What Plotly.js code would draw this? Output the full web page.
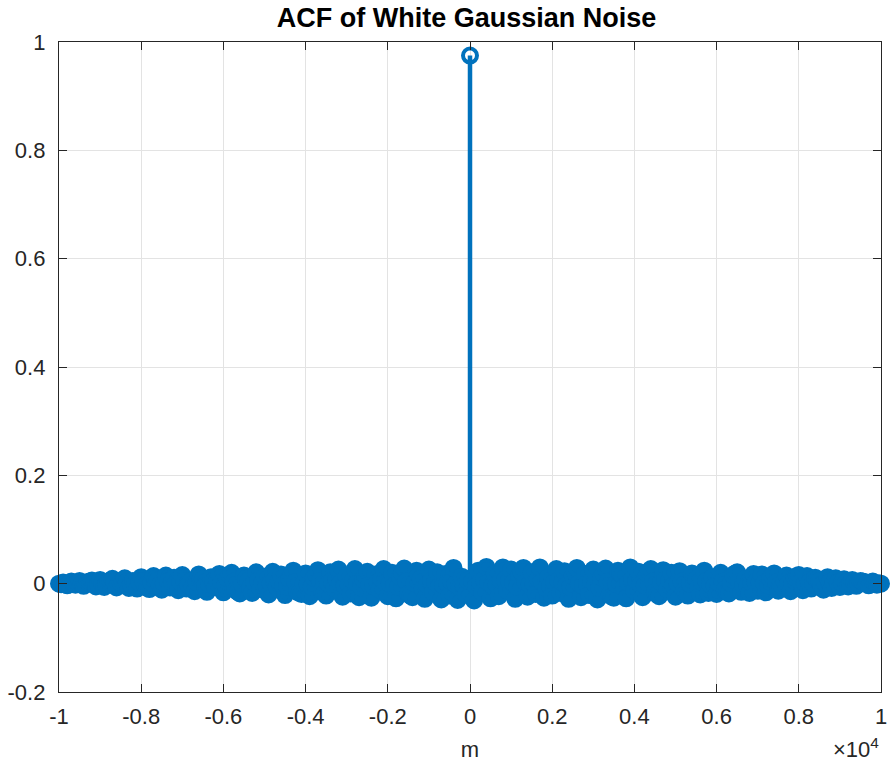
<!DOCTYPE html>
<html>
<head>
<meta charset="utf-8">
<script src="https://cdn.plot.ly/plotly-3.0.1.min.js"></script>
<style>html,body{margin:0;padding:0;background:#fff;}#chart{width:890px;height:771px;}</style>
</head>
<body>
<div id="chart"></div>
<script>
// Lag range and step (in samples)
const lagStart = -10000;
const lagStep = 50;

// ACF values, one per lag from -10000 to 10000 (step 50)
const acfValues = [
  0.000, -0.001, 0.002, 0.000, -0.003, 0.001, 0.004, 0.001, -0.002, 0.002, 0.005, 0.000, -0.004, -0.001, 0.003, 0.004, 0.006, 0.001, -0.005, -0.002,
  0.007, 0.001, -0.006, -0.001, 0.004, 0.006, 0.009, 0.002, -0.007, -0.003, 0.002, 0.005, 0.010, 0.003, -0.008, -0.002, 0.005, 0.000, -0.009, 0.003,
  0.012, 0.004, -0.004, -0.008, -0.010, 0.002, 0.014, 0.009, 0.006, -0.003, -0.011, 0.001, 0.015, 0.004, -0.007, 0.002, 0.011, 0.000, -0.012, 0.003,
  0.016, 0.005, -0.009, -0.002, 0.004, -0.006, -0.014, 0.003, 0.017, 0.011, 0.008, -0.004, -0.015, -0.001, 0.012, 0.004, -0.006, 0.007, 0.018, 0.002,
  -0.016, -0.003, 0.010, 0.016, 0.020, 0.004, -0.012, -0.015, -0.018, 0.000, 0.015, 0.009, 0.005, -0.008, -0.017, 0.003, 0.021, 0.006, -0.010, 0.002,
  0.013, -0.004, -0.020, 0.001, 0.022, 0.007, -0.006, 0.005, 0.017, -0.003, -0.021, -0.005, 0.009, 0.016, 0.024, 0.003, -0.015, -0.017, -0.019, 0.000,
  0.019, -0.002, -0.023, -0.006, 0.011, 0.018, 0.025, 0.005, -0.012, -0.018, -0.022, 0.000, 0.021, 0.006, -0.008, 0.009, 0.026, 0.001, -0.024, -0.004,
  0.014, -0.003, -0.018, 0.005, 0.027, 0.000, -0.025, -0.007, 0.008, 0.015, 0.022, -0.002, -0.026, -0.004, 0.017, 0.003, -0.011, 0.009, 0.027, 0.002,
  -0.023, -0.001, 0.020, -0.004, -0.027, -0.006, 0.012, 0.020, 0.028, 0.004, -0.019, -0.022, -0.025, 0.001, 0.024, 0.016, 0.009, -0.010, -0.028, -0.002,
  0.026, 0.005, -0.015, 0.003, 0.021, -0.005, -0.029, -0.003, 0.018, 0.001, -0.022, 0.004, 0.029, -0.001, -0.030, -0.008, 0.013, -0.004, -0.020, 0.006,
  0.975,
  0.004, -0.031, -0.005, 0.024, 0.003, -0.016, 0.008, 0.031, 0.002, -0.027, -0.004, 0.019, -0.001, -0.023, 0.006, 0.030, 0.007, -0.012, 0.005, 0.026,
  0.001, -0.028, -0.006, 0.015, 0.022, 0.029, 0.002, -0.024, -0.002, 0.021, 0.000, -0.019, 0.009, 0.030, 0.003, -0.026, -0.008, 0.011, -0.005, -0.022,
  0.004, 0.027, 0.006, -0.017, 0.002, 0.023, -0.003, -0.028, -0.007, 0.014, 0.021, 0.029, 0.001, -0.025, -0.004, 0.018, 0.000, -0.021, 0.005, 0.026,
  -0.002, -0.029, -0.008, 0.012, 0.019, 0.028, 0.003, -0.020, -0.024, -0.026, 0.000, 0.024, 0.020, 0.016, -0.006, -0.027, 0.002, 0.030, 0.008, -0.013,
  0.005, 0.022, -0.002, -0.025, -0.003, 0.018, 0.023, 0.027, 0.004, -0.016, -0.020, -0.023, 0.002, 0.025, 0.007, -0.010, 0.006, 0.020, -0.003, -0.024,
  0.001, 0.023, 0.004, -0.014, -0.018, -0.022, 0.000, 0.019, 0.013, 0.008, -0.007, -0.020, 0.003, 0.024, 0.005, -0.017, -0.002, 0.012, -0.004, -0.019,
  0.002, 0.020, 0.004, -0.011, -0.015, -0.018, 0.001, 0.016, 0.019, 0.021, 0.003, -0.015, -0.002, 0.009, -0.004, -0.017, 0.002, 0.018, 0.003, -0.013,
  0.002, 0.017, 0.000, -0.016, -0.003, 0.010, 0.015, 0.019, 0.002, -0.013, -0.009, -0.006, 0.005, 0.015, 0.001, -0.014, -0.001, 0.012, 0.014, 0.016,
  0.003, -0.012, 0.001, 0.014, 0.002, -0.009, 0.001, 0.011, 0.008, 0.005, -0.003, -0.011, 0.000, 0.012, 0.002, -0.008, 0.001, 0.010, 0.002, -0.006,
  0.001, 0.008, 0.002, -0.005, 0.001, 0.007, 0.002, -0.004, 0.000, 0.005, 0.004, 0.003, 0.000, -0.003, 0.001, 0.004, 0.001, -0.002, 0.001, 0.000
];

// Axis ticks
const xTickVals = [-10000, -8000, -6000, -4000, -2000, 0, 2000, 4000, 6000, 8000, 10000];
const xTickText = ['-1', '-0.8', '-0.6', '-0.4', '-0.2', '0', '0.2', '0.4', '0.6', '0.8', '1'];
const yTickVals = [-0.2, 0, 0.2, 0.4, 0.6, 0.8, 1];
const yTickText = ['-0.2', '0', '0.2', '0.4', '0.6', '0.8', '1'];

const chartTitle = 'ACF of White Gaussian Noise';
const xLabel = 'm';

// Build lags and stem segments from the data
const lags = acfValues.map((_, i) => lagStart + i * lagStep);
const stemX = [], stemY = [];
lags.forEach((m, i) => { stemX.push(m, m, null); stemY.push(0, acfValues[i], null); });
// Dense overlapping open circles read as a solid band; the isolated peak stays an open ring
const symbols = acfValues.map(v => (Math.abs(v) > 0.5 ? 'circle-open' : 'circle'));

const blue = '#0072BD';
const axisColor = '#262626';
const fontFam = 'Liberation Sans, Arial, Helvetica, sans-serif';

const traces = [
  {
    x: stemX, y: stemY, type: 'scatter', mode: 'lines', connectgaps: false,
    line: {color: blue, width: 4.5, simplify: false}, hoverinfo: 'skip', cliponaxis: false, showlegend: false
  },
  {
    x: lags, y: acfValues, type: 'scatter', mode: 'markers',
    marker: {symbol: symbols, size: 14, color: blue, line: {color: blue, width: 4}},
    cliponaxis: false, showlegend: false
  }
];

const axisFont = {family: fontFam, size: 22, color: axisColor};

const layout = {
  width: 890, height: 771,
  margin: {l: 59, r: 9, t: 42, b: 79},
  paper_bgcolor: '#ffffff', plot_bgcolor: '#ffffff',
  showlegend: false,
  title: {
    text: '<b>' + chartTitle + '</b>',
    font: {family: fontFam, size: 27, color: '#000000'},
    x: 0.5242, xanchor: 'center', y: 0.977, yanchor: 'middle'
  },
  xaxis: {
    range: [-10000, 10000], tickmode: 'array', tickvals: xTickVals, ticktext: xTickText,
    showgrid: true, gridcolor: '#e3e3e3', gridwidth: 1, zeroline: false,
    showline: true, linecolor: axisColor, linewidth: 1.2, mirror: 'ticks',
    ticks: 'inside', ticklen: 8, tickcolor: axisColor, tickwidth: 1,
    tickfont: axisFont, ticklabelstandoff: 4,
    title: {text: xLabel, font: axisFont, standoff: 14}
  },
  yaxis: {
    range: [-0.2, 1], tickmode: 'array', tickvals: yTickVals, ticktext: yTickText,
    showgrid: true, gridcolor: '#e3e3e3', gridwidth: 1, zeroline: false,
    showline: true, linecolor: axisColor, linewidth: 1.2, mirror: 'ticks',
    ticks: 'inside', ticklen: 8, tickcolor: axisColor, tickwidth: 1,
    tickfont: axisFont, ticklabelstandoff: 8
  },
  annotations: [
    {
      text: '\u00d710<sup>4</sup>', xref: 'paper', yref: 'paper', x: 1.0, y: -0.062,
      xanchor: 'right', yanchor: 'top', showarrow: false,
      font: {family: fontFam, size: 22, color: axisColor}
    }
  ]
};

Plotly.newPlot('chart', traces, layout, {displayModeBar: false, staticPlot: true});
</script>
</body>
</html>
